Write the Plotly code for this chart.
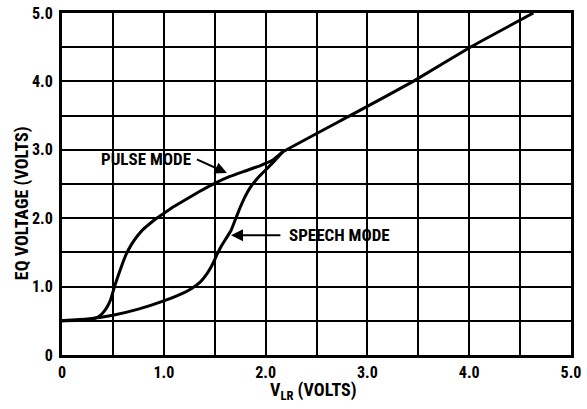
import plotly.graph_objects as go

# Data
pulse_x = [0, 0.15, 0.25, 0.32, 0.37, 0.41, 0.45, 0.48, 0.50, 0.52, 0.55, 0.59, 0.63, 0.68, 0.74, 0.80, 0.87, 0.94,
           1.0, 1.1, 1.2, 1.35, 1.5, 1.65, 1.8, 1.95, 2.07, 2.17, 2.83, 3.45, 4.01, 4.63]
pulse_y = [0.5, 0.505, 0.515, 0.535, 0.57, 0.63, 0.72, 0.82, 0.92, 1.02, 1.15, 1.32, 1.47, 1.61, 1.74, 1.84, 1.93, 2.01,
           2.07, 2.17, 2.26, 2.39, 2.51, 2.61, 2.69, 2.77, 2.85, 2.97, 3.5, 4.0, 4.5, 5.0]

speech_x = [0, 0.25, 0.5, 0.75, 1.0, 1.15, 1.27, 1.36, 1.43, 1.48, 1.52, 1.56, 1.61, 1.66, 1.70, 1.74, 1.79, 1.85,
            1.93, 2.01, 2.09, 2.17]
speech_y = [0.5, 0.525, 0.58, 0.67, 0.79, 0.88, 0.97, 1.07, 1.2, 1.33, 1.46, 1.58, 1.70, 1.82, 1.97, 2.12, 2.29, 2.45,
            2.60, 2.72, 2.84, 2.97]

tick_vals = [0, 0.5, 1.0, 1.5, 2.0, 2.5, 3.0, 3.5, 4.0, 4.5, 5.0]
tick_text = ["0", "", "1.0", "", "2.0", "", "3.0", "", "4.0", "", "5.0"]

x_title = "V<sub>LR</sub> (VOLTS)"
y_title = "EQ VOLTAGE (VOLTS)"
pulse_label = "PULSE MODE"
speech_label = "SPEECH MODE"

FONT = "Roboto Condensed, Liberation Sans Narrow, sans-serif"

fig = go.Figure()
fig.add_trace(go.Scatter(x=pulse_x, y=pulse_y, mode="lines",
                         line=dict(color="black", width=3, shape="spline", smoothing=0.3),
                         showlegend=False, hoverinfo="skip"))
fig.add_trace(go.Scatter(x=speech_x, y=speech_y, mode="lines",
                         line=dict(color="black", width=3, shape="spline", smoothing=0.3),
                         showlegend=False, hoverinfo="skip"))

axis_common = dict(
    range=[0, 5], tickvals=tick_vals, ticktext=tick_text,
    showgrid=True, gridcolor="black", gridwidth=2,
    showline=True, linecolor="black", linewidth=3, mirror=True,
    zeroline=False, ticks="", automargin=False, ticklabeloverflow="allow",
    tickfont=dict(family=FONT, size=16, color="black", weight="bold"),
    fixedrange=True,
)
fig.update_xaxes(**axis_common, ticklabelstandoff=1)
fig.update_yaxes(**axis_common, ticklabelstandoff=3)

annotations = [
    # Pulse mode label and arrow
    dict(x=1.29, y=2.87, xref="x", yref="y", text=pulse_label, showarrow=False,
         xanchor="right", yanchor="middle",
         font=dict(family=FONT, size=17, color="black", weight="bold")),
    dict(x=1.62, y=2.66, xref="x", yref="y", ax=1.31, ay=2.87, axref="x", ayref="y",
         text="", showarrow=True, arrowhead=2, arrowsize=1.2, arrowwidth=2, arrowcolor="black"),
    # Speech mode label and arrow
    dict(x=2.21, y=1.75, xref="x", yref="y", text=speech_label, showarrow=False,
         xanchor="left", yanchor="middle",
         font=dict(family=FONT, size=17, color="black", weight="bold")),
    dict(x=1.66, y=1.75, xref="x", yref="y", ax=2.16, ay=1.75, axref="x", ayref="y",
         text="", showarrow=True, arrowhead=2, arrowsize=1.2, arrowwidth=2, arrowcolor="black"),
    # Axis titles
    dict(x=0.495, y=-0.105, xref="paper", yref="paper", text=x_title, showarrow=False,
         xanchor="center", yanchor="middle",
         font=dict(family=FONT, size=18, color="black", weight="bold")),
    dict(x=-0.0786, y=0.444, xref="paper", yref="paper", text=y_title, showarrow=False,
         textangle=-90, xanchor="center", yanchor="middle",
         font=dict(family=FONT, size=18, color="black", weight="bold")),
]

fig.update_layout(
    width=587, height=409,
    margin=dict(l=62, r=16, t=13, b=54),
    paper_bgcolor="white", plot_bgcolor="white",
    annotations=annotations,
)

fig.write_html("out.html", config={"displayModeBar": False},
               post_script="document.body.style.margin='0';document.body.style.overflow='hidden';")
